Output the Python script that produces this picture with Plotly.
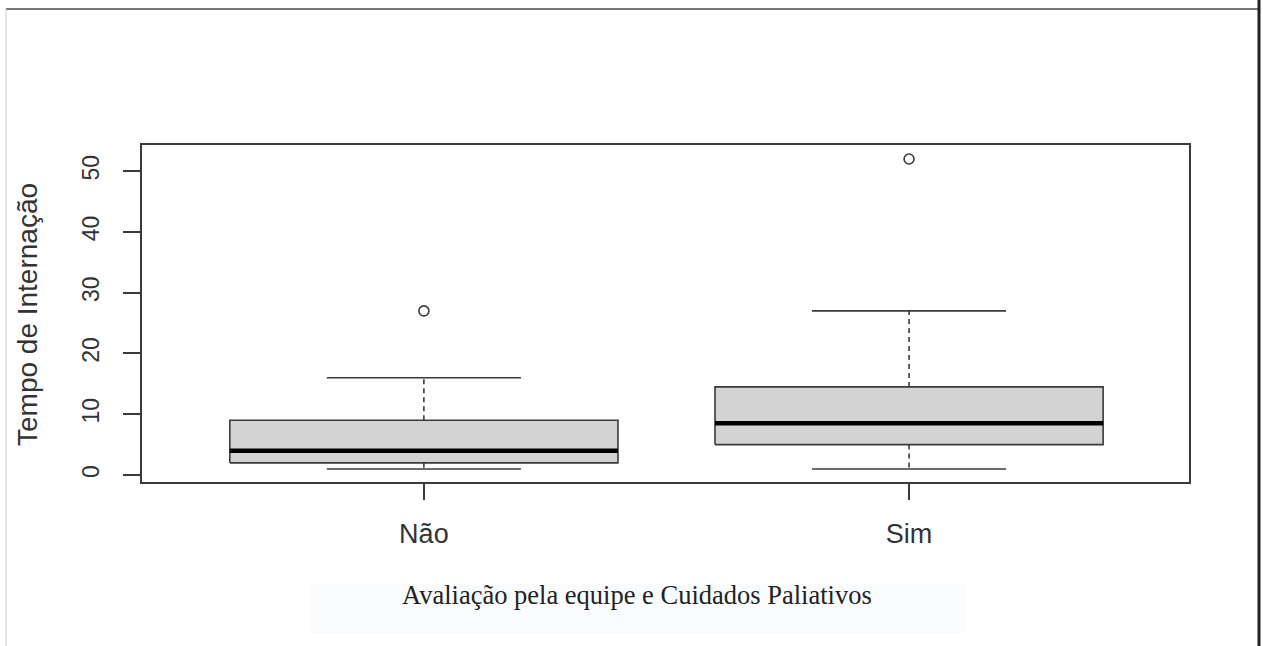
import plotly.graph_objects as go

# ---- data ----
categories = ["Não", "Sim"]
q1_values = [2.0, 5.0]
median_values = [4.0, 8.5]
q3_values = [9.0, 14.5]
lower_whisker = [1.0, 1.0]
upper_whisker = [16.0, 27.0]
outliers = [[27.0], [52.0]]
y_ticks = [0, 10, 20, 30, 40, 50]

y_title = "Tempo de Internação"
x_title = "Avaliação pela equipe e Cuidados Paliativos"

# ---- style ----
LINE = "#3a3a3a"
FILL = "#d3d3d3"
HALF_BOX = 0.4
HALF_CAP = 0.2

W, H = 1263, 646
L, R, T, B = 142, 74, 145, 164
PW, PH = W - L - R, H - T - B


def px_x(px):
    return (px - L) / PW


def px_y(py):
    return (H - B - py) / PH


fig = go.Figure()

for i, cat in enumerate(categories):
    p = i + 1
    # box
    fig.add_trace(go.Scatter(
        x=[p - HALF_BOX, p + HALF_BOX, p + HALF_BOX, p - HALF_BOX, p - HALF_BOX],
        y=[q1_values[i], q1_values[i], q3_values[i], q3_values[i], q1_values[i]],
        mode="lines", fill="toself", fillcolor=FILL,
        line=dict(color=LINE, width=1.6), showlegend=False, hoverinfo="skip"))
    # median
    fig.add_trace(go.Scatter(
        x=[p - HALF_BOX, p + HALF_BOX], y=[median_values[i], median_values[i]],
        mode="lines", line=dict(color="black", width=4.5),
        showlegend=False, hoverinfo="skip"))
    # whiskers (dashed)
    fig.add_trace(go.Scatter(
        x=[p, p, None, p, p],
        y=[q3_values[i], upper_whisker[i], None, q1_values[i], lower_whisker[i]],
        mode="lines", line=dict(color=LINE, width=1.6, dash="5px,4px"),
        showlegend=False, hoverinfo="skip"))
    # caps
    fig.add_trace(go.Scatter(
        x=[p - HALF_CAP, p + HALF_CAP, None, p - HALF_CAP, p + HALF_CAP],
        y=[upper_whisker[i], upper_whisker[i], None, lower_whisker[i], lower_whisker[i]],
        mode="lines", line=dict(color=LINE, width=1.6),
        showlegend=False, hoverinfo="skip"))
    # outliers
    fig.add_trace(go.Scatter(
        x=[p] * len(outliers[i]), y=outliers[i], mode="markers",
        marker=dict(symbol="circle-open", size=10, color=LINE, line=dict(width=1.6)),
        showlegend=False))

fig.update_layout(
    width=W, height=H, autosize=False,
    margin=dict(l=L, r=R, t=T, b=B),
    paper_bgcolor="white", plot_bgcolor="white",
    font=dict(family="Liberation Sans, Arial, sans-serif", color="#333"),
    xaxis=dict(
        range=[0.419, 2.577], tickvals=[1, 2], ticktext=categories,
        showgrid=False, zeroline=False, showline=True, mirror=True,
        linecolor=LINE, linewidth=1.6, ticks="outside", ticklen=16,
        tickcolor=LINE, tickwidth=1.6, tickfont=dict(size=27, color="#333"),
        ticklabelstandoff=11),
    yaxis=dict(
        range=[-1.15, 54.3], tickvals=y_ticks, ticktext=[str(v) for v in y_ticks],
        showgrid=False, zeroline=False, showline=True, mirror=True,
        linecolor=LINE, linewidth=1.6, ticks="outside", ticklen=17,
        tickcolor=LINE, tickwidth=1.6, tickangle=-90,
        tickfont=dict(size=23, color="#333"), ticklabelstandoff=15),
    annotations=[
        dict(text=y_title, xref="paper", yref="paper", x=px_x(27), y=px_y(315),
             xanchor="center", yanchor="middle", textangle=-90, showarrow=False,
             font=dict(size=28, color="#333", family="Liberation Sans, Arial, sans-serif")),
        dict(text=x_title, xref="paper", yref="paper", x=px_x(637), y=px_y(595),
             xanchor="center", yanchor="middle", showarrow=False,
             font=dict(size=26.5, color="#222", family="Liberation Serif, Times New Roman, serif")),
    ],
    shapes=[
        dict(type="rect", xref="paper", yref="paper", x0=px_x(310), x1=px_x(965),
             y0=px_y(634), y1=px_y(583), fillcolor="#fbfcfe", line=dict(width=0),
             layer="below"),
        dict(type="line", xref="paper", yref="paper", x0=px_x(6), x1=px_x(1259),
             y0=px_y(9), y1=px_y(9), line=dict(color="#777", width=2)),
        dict(type="line", xref="paper", yref="paper", x0=px_x(6), x1=px_x(6),
             y0=px_y(9), y1=px_y(646), line=dict(color="#cccccc", width=1)),
        dict(type="line", xref="paper", yref="paper", x0=px_x(1259), x1=px_x(1259),
             y0=px_y(0), y1=px_y(646), line=dict(color="#222", width=3)),
    ],
)

fig.write_html("out.html")
